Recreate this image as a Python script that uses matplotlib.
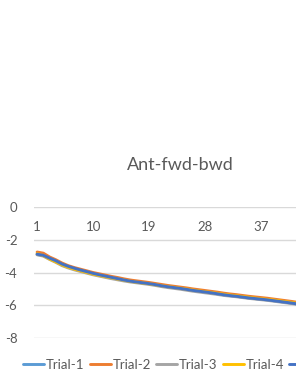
import numpy as np
import matplotlib.pyplot as plt

# Trial data (visible part of the chart, categories 1..44)
categories = np.arange(1, 45)
trial_1 = [-2.90, -2.96, -3.14, -3.30, -3.50, -3.64, -3.76, -3.86, -3.96, -4.06,
           -4.15, -4.23, -4.31, -4.39, -4.46, -4.53, -4.58, -4.63, -4.68, -4.74,
           -4.81, -4.87, -4.92, -4.97, -5.03, -5.09, -5.14, -5.19, -5.24, -5.30,
           -5.36, -5.41, -5.45, -5.50, -5.55, -5.59, -5.63, -5.67, -5.72, -5.77,
           -5.82, -5.87, -5.93, -5.98]
trial_2 = [-2.75, -2.82, -3.05, -3.22, -3.42, -3.58, -3.70, -3.80, -3.90, -4.00,
           -4.08, -4.16, -4.24, -4.31, -4.39, -4.46, -4.51, -4.56, -4.61, -4.67,
           -4.73, -4.79, -4.84, -4.89, -4.94, -5.00, -5.05, -5.10, -5.15, -5.20,
           -5.26, -5.31, -5.35, -5.40, -5.45, -5.49, -5.53, -5.57, -5.62, -5.67,
           -5.72, -5.77, -5.83, -5.88]
trial_3 = [-2.92, -3.00, -3.20, -3.38, -3.58, -3.72, -3.84, -3.94, -4.04, -4.14,
           -4.22, -4.30, -4.38, -4.45, -4.52, -4.58, -4.63, -4.68, -4.73, -4.79,
           -4.86, -4.92, -4.97, -5.02, -5.08, -5.14, -5.19, -5.24, -5.29, -5.34,
           -5.40, -5.44, -5.48, -5.53, -5.58, -5.62, -5.66, -5.70, -5.75, -5.80,
           -5.85, -5.90, -5.96, -6.01]
trial_4 = [-2.85, -2.97, -3.18, -3.35, -3.54, -3.68, -3.80, -3.90, -4.00, -4.10,
           -4.18, -4.26, -4.33, -4.40, -4.47, -4.54, -4.59, -4.64, -4.69, -4.75,
           -4.81, -4.86, -4.91, -4.96, -5.01, -5.07, -5.12, -5.17, -5.22, -5.27,
           -5.33, -5.38, -5.42, -5.47, -5.51, -5.56, -5.60, -5.64, -5.68, -5.73,
           -5.78, -5.83, -5.89, -5.94]
trial_5 = [-2.88, -2.95, -3.12, -3.28, -3.48, -3.62, -3.74, -3.85, -3.95, -4.05,
           -4.14, -4.22, -4.30, -4.38, -4.46, -4.53, -4.58, -4.63, -4.68, -4.74,
           -4.81, -4.87, -4.92, -4.97, -5.03, -5.09, -5.14, -5.19, -5.24, -5.30,
           -5.36, -5.41, -5.45, -5.50, -5.55, -5.59, -5.63, -5.67, -5.72, -5.77,
           -5.82, -5.87, -5.93, -5.98]
labels = ['Trial-1', 'Trial-2', 'Trial-3', 'Trial-4', 'Trial-5']
colors = ['#5B9BD5', '#ED7D31', '#A5A5A5', '#FFC000', '#4472C4']
x_ticks = [1, 10, 19, 28, 37]
y_ticks = [0, -2, -4, -6, -8]

plt.rcParams['font.family'] = ['Lato', 'DejaVu Sans']
txt = '#595959'

fig = plt.figure(figsize=(2.96, 3.83), dpi=100)
ax = fig.add_axes([34/296, 45/383, 1 - 34/296, 131/383])

for lab, col, vals in zip(labels, colors, [trial_1, trial_2, trial_3, trial_4, trial_5]):
    ax.plot(categories, vals, color=col, linewidth=2.1, label=lab, solid_capstyle='round')

ax.set_xlim(0.5, 42.64)
ax.set_ylim(-8, 0)
ax.set_yticks(y_ticks)
ax.set_yticklabels([str(v) for v in y_ticks])
ax.set_xticks(x_ticks)
ax.spines['bottom'].set_position(('data', 0))
for s in ax.spines.values():
    s.set_visible(False)
ax.tick_params(axis='x', length=0, pad=10, labelsize=9.5, labelcolor=txt)
ax.tick_params(axis='y', length=0, pad=12, labelsize=9.5, labelcolor=txt)
ax.yaxis.grid(True, color='#D9D9D9', linewidth=1)
ax.set_axisbelow(True)

fig.text(180/296, 1 - 165/383, 'Ant-fwd-bwd', ha='center', va='center', fontsize=13, color=txt)

# legend runs past the right edge like the cropped original
fig.legend(loc='center left', bbox_to_anchor=(23/296, 1 - 365/383), ncol=5, frameon=False,
           fontsize=9.5, handlelength=1.6, handletextpad=0.15, columnspacing=0.38,
           borderpad=0, borderaxespad=0, labelcolor=txt)

fig.savefig('out.png', dpi=100)
